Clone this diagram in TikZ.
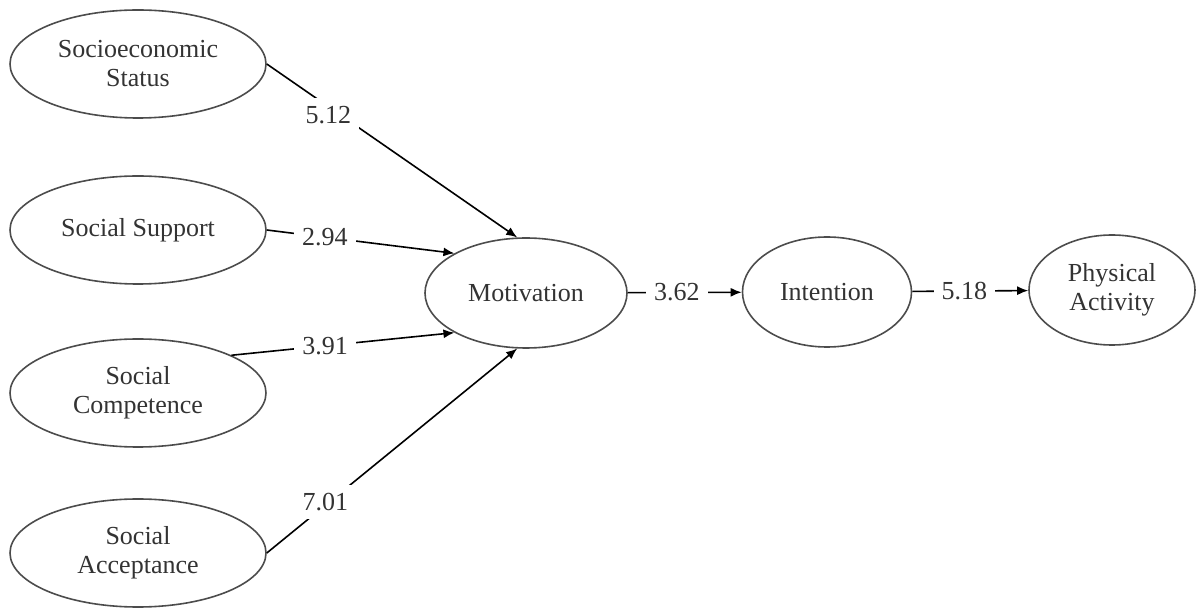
\documentclass[tikz,border=0pt]{standalone}
\usepackage{fontspec}
\setmainfont{Liberation Serif}
\usetikzlibrary{arrows.meta,shapes.geometric}

\begin{document}
\begin{tikzpicture}[
    x=0.5pt, y=-0.5pt,
    >={Latex[length=5.5pt,width=4.5pt]},
    every node/.style={font=\fontsize{13}{14.5}\selectfont, text=black!80},
    latent/.style={
        draw=black!70,
        ellipse,
        line width=0.8pt,
        align=center,
        inner sep=0pt,
        minimum width=128pt,
        minimum height=54pt
    },
    coef/.style={fill=white, inner sep=4pt}
]
  \useasboundingbox (0,0) rectangle (1196,609);

  \node[latent] (SES) at (138,64) {Socioeconomic\\Status};
  \node[latent] (SS) at (138,230) {Social Support};
  \node[latent] (SC) at (138,393) {Social\\Competence};
  \node[latent] (SA) at (138,553) {Social\\Acceptance};
  \node[latent, minimum width=101pt, minimum height=55pt] (Mot) at (526,293) {Motivation};
  \node[latent, minimum width=84.5pt, minimum height=55pt] (Int) at (827,292) {Intention};
  \node[latent, minimum width=83pt, minimum height=55pt] (PA) at (1112,290) {Physical\\Activity};

  \draw[->, line width=0.8pt] (SES.east) -- node[coef, pos=0.27, xshift=-3pt, yshift=-2pt] {5.12} (Mot.99);
  \draw[->, line width=0.8pt] (SS.east) -- node[coef, pos=0.31] {2.94} (Mot.151);
  \draw[->, line width=0.8pt] (SC.22) -- node[coef, pos=0.42] {3.91} (Mot.209);
  \draw[->, line width=0.8pt] (SA.east) -- node[coef, pos=0.25, xshift=-2pt] {7.01} (Mot.261);
  \draw[->, line width=0.8pt] (Mot) -- node[coef, pos=0.43] {3.62} (Int);
  \draw[->, line width=0.8pt] (Int) -- node[coef, pos=0.45] {5.18} (PA);
\end{tikzpicture}
\end{document}
